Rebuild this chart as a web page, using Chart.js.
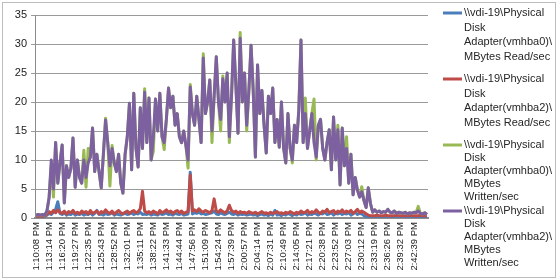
<!DOCTYPE html>
<html><head><meta charset="utf-8">
<script src="https://cdn.jsdelivr.net/npm/chart.js@4.4.1/dist/chart.umd.min.js"></script>
<style>html,body{margin:0;padding:0;background:#fff;}#wrap{position:relative;width:558px;height:280px;}</style>
</head><body><div id="wrap"><canvas id="c" width="558" height="280"></canvas></div>
<script>
const tickLabels = ['1:10:08 PM','1:13:14 PM','1:16:20 PM','1:19:27 PM','1:22:35 PM','1:25:43 PM','1:28:52 PM','1:32:01 PM','1:35:11 PM','1:38:22 PM','1:41:33 PM','1:44:44 PM','1:47:56 PM','1:51:09 PM','1:54:24 PM','1:57:39 PM','2:00:57 PM','2:04:14 PM','2:07:31 PM','2:10:49 PM','2:14:05 PM','2:17:21 PM','2:20:38 PM','2:23:52 PM','2:27:03 PM','2:30:12 PM','2:33:19 PM','2:36:26 PM','2:39:32 PM','2:42:39 PM'];
const seriesNames = ['\\\\vdi-19\\Physical Disk Adapter(vmhba0)\\MBytes Read/sec','\\\\vdi-19\\Physical Disk Adapter(vmhba2)\\MBytes Read/sec','\\\\vdi-19\\Physical Disk Adapter(vmhba0)\\MBytes Written/sec','\\\\vdi-19\\Physical Disk Adapter(vmhba2)\\MBytes Written/sec'];
const seriesColors = ['#4A7EBB','#BE4B48','#98B954','#7D60A0'];
const readHba0 = [0.2,0.2,0.3,0.2,0.3,0.5,0.8,0.6,1.0,1.5,
 2.8,0.8,0.6,0.9,0.5,0.7,0.6,0.9,0.5,0.7,
 0.6,0.8,0.5,0.7,0.6,0.9,0.5,0.8,1.3,0.6,
 0.7,0.5,0.8,0.6,0.7,0.9,0.5,0.7,0.6,0.5,
 0.7,0.8,0.6,0.7,0.9,0.6,0.8,0.7,1.0,0.6,
 0.7,0.6,0.8,0.5,0.7,0.6,0.5,0.8,0.6,0.7,
 0.9,0.6,0.7,0.5,0.8,0.7,0.6,0.8,0.5,0.6,
 0.7,7.9,0.7,0.9,0.8,1.0,0.7,0.8,0.6,0.7,
 0.8,0.9,1.2,0.7,0.6,0.9,0.7,0.6,0.8,1.0,
 0.7,0.6,0.8,0.5,0.7,0.6,0.7,0.5,0.6,0.7,
 0.5,0.6,0.4,0.6,0.7,0.5,0.6,0.4,0.7,0.5,
 1.3,0.5,0.6,0.4,0.7,0.5,0.8,0.6,0.4,0.7,
 0.5,0.8,0.6,0.7,0.9,0.5,0.7,0.6,0.9,0.7,
 0.5,0.8,0.7,1.0,0.6,0.7,0.9,0.5,0.8,0.7,
 0.9,0.6,0.8,0.7,0.9,0.5,0.7,1.0,0.6,0.8,
 0.7,0.4,0.2,0.1,0.1,0.1,0.1,0.1,0.1,0.1,
 0.1,0.1,0.1,0.1,0.1,0.1,0.1,0.1,0.1,0.1,
 0.1,0.1,0.1,0.1,0.1,0.1,0.1,0.1,0.1,0.1,
 0.1];
const readHba2 = [0.3,0.3,0.4,0.3,0.4,0.6,1.1,0.8,1.3,0.9,
 1.4,1.0,0.8,1.2,0.7,1.1,0.9,1.3,0.8,1.0,
 0.7,1.2,0.9,1.1,0.7,1.3,0.8,1.0,1.2,0.7,
 1.1,0.9,1.4,1.0,0.8,1.2,0.7,1.0,1.3,0.9,
 0.7,1.0,1.2,0.8,1.1,1.3,0.9,1.1,1.6,4.6,
 1.2,0.9,1.1,0.8,1.2,1.0,0.7,1.3,0.9,1.1,
 1.4,1.0,1.2,0.8,1.1,1.3,0.9,1.2,0.8,1.0,
 1.1,7.4,1.2,1.4,1.1,1.6,1.2,1.0,1.3,1.1,
 0.9,1.3,3.3,1.2,1.0,1.4,1.1,0.9,1.2,2.2,
 1.3,1.0,1.2,0.8,1.1,0.9,1.0,0.8,1.1,0.9,
 0.8,1.0,0.7,0.9,1.1,0.8,0.9,0.7,1.0,0.8,
 0.9,1.1,0.8,0.9,0.7,1.0,0.8,1.1,0.9,0.7,
 1.0,0.8,1.2,0.9,1.0,1.3,0.8,1.1,0.9,1.4,
 1.0,0.8,1.2,1.0,1.5,0.9,1.1,1.3,0.8,1.2,
 1.0,1.4,0.9,1.2,1.0,1.3,0.8,1.1,1.5,0.9,
 1.2,1.0,0.7,0.5,0.4,0.4,0.4,0.5,0.4,0.4,
 0.4,0.5,0.4,0.4,0.4,0.4,0.5,0.4,0.4,0.4,
 0.4,0.4,0.5,0.4,0.4,0.4,0.4,0.5,0.4,0.4,
 0.4];
const writtenHba0 = [0.5,0.6,0.5,0.6,0.5,1.2,3.6,9.0,3.6,13.0,
 6.0,9.5,12.6,2.6,9.0,7.0,8.5,13.8,5.3,10.0,
 7.0,6.0,11.7,5.3,12.0,10.5,15.5,8.0,11.0,8.0,
 5.2,11.0,17.2,13.0,5.5,12.5,9.5,8.0,11.0,6.0,
 4.3,11.0,14.0,19.8,8.3,21.5,12.0,8.8,19.0,12.0,
 22.3,13.0,20.7,10.0,11.5,20.5,15.0,21.5,14.0,11.8,
 17.0,22.4,19.0,21.0,16.0,18.0,14.0,13.0,15.0,12.5,
 8.6,23.0,18.0,16.0,21.0,17.0,13.0,28.3,18.0,20.0,
 23.8,13.0,21.0,27.8,20.0,15.0,24.5,20.0,25.0,13.0,
 21.0,30.7,23.0,14.6,32.0,20.0,25.0,15.0,22.0,29.8,
 22.0,10.5,26.4,18.0,22.0,16.0,11.2,21.0,18.0,22.4,
 13.0,17.0,12.2,20.0,12.0,9.5,18.0,12.0,9.5,16.0,
 13.0,18.6,30.7,13.0,20.7,12.0,15.0,18.0,20.5,10.0,
 16.0,17.0,12.0,10.0,13.0,15.2,8.3,17.4,10.0,16.0,
 5.7,15.5,9.0,14.0,6.0,11.0,4.0,7.0,4.8,3.6,
 5.4,3.0,1.8,5.2,2.5,1.0,1.4,1.0,1.2,0.9,
 1.1,1.0,1.5,1.0,0.9,1.2,0.8,1.0,0.9,0.8,
 1.0,0.7,0.9,0.8,1.0,0.9,2.0,0.8,0.7,0.9,
 0.6];
const writtenHba2 = [0.5,0.6,0.5,0.6,0.5,1.2,3.5,10.0,5.0,13.0,
 6.0,9.5,12.6,2.6,9.0,7.0,8.5,13.8,5.3,10.0,
 7.0,6.0,10.0,7.0,9.5,10.5,15.5,8.0,11.0,8.0,
 5.2,11.0,16.9,13.0,9.0,12.0,9.5,8.0,11.0,6.0,
 4.3,11.0,14.0,19.8,8.3,21.5,12.0,8.8,19.0,12.0,
 21.7,13.0,20.7,10.0,14.0,20.5,15.0,21.5,14.0,13.0,
 17.0,22.4,19.0,21.0,16.0,18.0,14.0,13.0,15.0,12.5,
 10.0,22.6,18.0,16.0,21.0,17.0,13.0,27.6,18.0,20.0,
 23.8,15.0,21.0,27.8,20.0,17.0,24.0,20.0,25.0,14.0,
 21.0,30.7,23.0,14.6,31.0,20.0,25.0,16.0,22.0,29.8,
 22.0,10.5,26.4,18.0,22.0,16.0,11.2,21.0,18.0,22.4,
 13.0,17.0,12.2,20.0,12.0,9.5,18.0,12.0,10.0,16.0,
 13.0,18.6,30.7,13.0,18.0,12.0,15.0,18.0,13.0,10.5,
 16.0,17.0,12.0,10.0,13.0,15.2,8.3,17.4,10.0,15.2,
 5.7,15.5,9.0,12.0,6.0,11.0,4.0,7.0,4.8,3.6,
 4.5,3.0,1.8,5.2,2.5,1.0,1.4,1.0,1.2,0.9,
 1.1,1.0,1.5,1.0,0.9,1.2,0.8,1.0,0.9,0.8,
 1.0,0.7,0.9,0.8,1.0,0.9,1.2,0.8,0.7,0.9,
 0.6];
const LABEL_STEP = 6;
const categories = writtenHba2.map((_, i) => (i % LABEL_STEP === 0 && tickLabels[i / LABEL_STEP]) ? tickLabels[i / LABEL_STEP] : '');
const seriesData = [readHba0, readHba2, writtenHba0, writtenHba2];

const FONT = '"Liberation Sans", Arial, sans-serif';

const framePlugin = {
  id: 'frame',
  beforeDraw(chart) {
    const ctx = chart.ctx;
    ctx.save();
    ctx.fillStyle = '#fff';
    ctx.fillRect(0, 0, chart.width, chart.height);
    ctx.strokeStyle = '#bdbdbd';
    ctx.lineWidth = 1;
    ctx.strokeRect(2.5, 2.5, chart.width - 5, chart.height - 5);
    ctx.restore();
  }
};

function wrapText(ctx, text, maxW) {
  const pieces = text.match(/[^ \\]*(?:[ \\]|$)/g).filter(p => p.length);
  const lines = [];
  let line = '';
  for (const p of pieces) {
    const trial = line + p;
    if (line && ctx.measureText(trial.trimEnd()).width > maxW) {
      lines.push(line.trimEnd());
      line = p;
    } else {
      line = trial;
    }
  }
  if (line) lines.push(line.trimEnd());
  return lines;
}

const legendPlugin = {
  id: 'sideLegend',
  afterDraw(chart) {
    const ctx = chart.ctx;
    ctx.save();
    ctx.font = '11px ' + FONT;
    ctx.textBaseline = 'middle';
    ctx.textAlign = 'left';
    const x0 = 443, x1 = 462, tx = 464;
    chart.data.datasets.forEach((ds, k) => {
      const top = 13 + 66 * k;
      const lines = wrapText(ctx, ds.label, 90);
      const lh = lines.length > 4 ? 13 : 14.7;
      ctx.strokeStyle = ds.borderColor;
      ctx.lineWidth = 3;
      ctx.beginPath();
      ctx.moveTo(x0, top);
      ctx.lineTo(x1, top);
      ctx.stroke();
      ctx.fillStyle = '#262626';
      lines.forEach((ln, j) => ctx.fillText(ln, tx, top + j * lh));
    });
    ctx.restore();
  }
};

const orders = [4, 3, 2, 1];
new Chart(document.getElementById('c'), {
  type: 'line',
  data: {
    labels: categories,
    datasets: seriesData.map((d, k) => ({
      label: seriesNames[k],
      data: d,
      borderColor: seriesColors[k],
      backgroundColor: seriesColors[k],
      borderWidth: 3,
      borderJoinStyle: 'round',
      pointRadius: 0,
      tension: 0,
      order: orders[k]
    }))
  },
  options: {
    responsive: false,
    animation: false,
    devicePixelRatio: 1,
    layout: { padding: { top: 15, left: 0, right: 130, bottom: 0 } },
    plugins: { legend: { display: false }, tooltip: { enabled: false } },
    scales: {
      x: {
        offset: true,
        grid: { display: false, drawTicks: false },
        border: { display: true, color: '#8c8c8c', width: 2 },
        ticks: {
          autoSkip: false, maxRotation: 90, minRotation: 90, padding: 4,
          color: '#222', font: { family: FONT, size: 9.5 }
        },
        afterFit(scale) { scale.height = 62; }
      },
      y: {
        min: 0, max: 35,
        ticks: { stepSize: 5, padding: 4, color: '#222', font: { family: FONT, size: 11 } },
        grid: { color: '#9a9a9a', lineWidth: 1, tickLength: 4, drawTicks: true },
        border: { display: true, color: '#8c8c8c', width: 1 },
        afterFit(scale) { scale.width = 35; }
      }
    }
  },
  plugins: [framePlugin, legendPlugin]
});
</script>
</body></html>
